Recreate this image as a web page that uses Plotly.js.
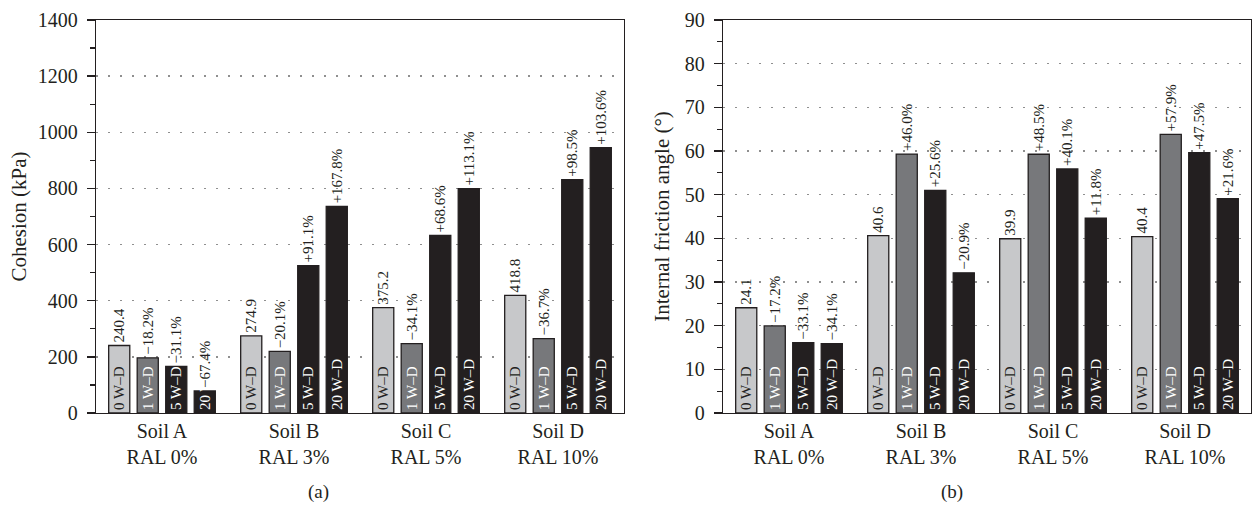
<!DOCTYPE html>
<html>
<head>
<meta charset="utf-8">
<script src="https://cdn.plot.ly/plotly-3.0.1.min.js"></script>
<style>
  html, body { margin: 0; padding: 0; background: #ffffff; }
  #chart { width: 1253px; height: 513px; }
</style>
</head>
<body>
<div id="chart"></div>
<script>
// Soil groups (x categories) and wetting–drying cycle series
const soils = ['Soil A<br>RAL 0%', 'Soil B<br>RAL 3%', 'Soil C<br>RAL 5%', 'Soil D<br>RAL 10%'];
const cycleNames = ['0 W–D', '1 W–D', '5 W–D', '20 W–D'];

// (a) Cohesion, kPa
const cohesion0 = [240.4, 274.9, 375.2, 418.8];
const cohesion1 = [196.6, 219.6, 247.3, 265.1];
const cohesion5 = [165.6, 525.3, 632.6, 831.3];
const cohesion20 = [78.4, 736.2, 799.6, 945.0];
const cohesionChange1 = ['−18.2%', '−20.1%', '−34.1%', '−36.7%'];
const cohesionChange5 = ['−31.1%', '+91.1%', '+68.6%', '+98.5%'];
const cohesionChange20 = ['−67.4%', '+167.8%', '+113.1%', '+103.6%'];

// (b) Internal friction angle, degrees
const friction0 = [24.1, 40.6, 39.9, 40.4];
const friction1 = [19.95, 59.3, 59.25, 63.8];
const friction5 = [16.1, 51.0, 55.9, 59.6];
const friction20 = [15.9, 32.1, 44.6, 49.1];
const frictionChange1 = ['−17.2%', '+46.0%', '+48.5%', '+57.9%'];
const frictionChange5 = ['−33.1%', '+25.6%', '+40.1%', '+47.5%'];
const frictionChange20 = ['−34.1%', '−20.9%', '+11.8%', '+21.6%'];

const INK = '#231f20';
const FONT = 'Liberation Serif, Times New Roman, serif';
const fills = ['#c7c8ca', '#77787b', INK, INK];
const innerColors = [INK, '#ffffff', '#ffffff', '#ffffff'];

function panelTraces(series, labels, xa, ya) {
  const bars = [];
  const tags = [];
  series.forEach(function (vals, i) {
    bars.push({
      type: 'bar', x: soils, y: vals, xaxis: xa, yaxis: ya,
      offsetgroup: 'c' + i, name: cycleNames[i],
      marker: { color: fills[i], line: { color: INK, width: 1.3 } },
      text: vals.map(function () { return cycleNames[i]; }),
      textposition: 'inside', insidetextanchor: 'start', textangle: -90,
      constraintext: 'none',
      insidetextfont: { family: FONT, size: 15, color: innerColors[i] },
      hoverinfo: 'skip', cliponaxis: false
    });
    tags.push({
      type: 'bar', x: soils, y: vals, xaxis: xa, yaxis: ya,
      offsetgroup: 'c' + i, name: cycleNames[i] + ' label',
      marker: { color: 'rgba(0,0,0,0)', line: { width: 0 } },
      text: labels[i],
      textposition: 'outside', textangle: -90, constraintext: 'none',
      outsidetextfont: { family: FONT, size: 15, color: INK },
      hoverinfo: 'skip', cliponaxis: false
    });
  });
  return bars.concat(tags);
}

const fmt = function (arr) { return arr.map(function (v) { return v.toFixed(1); }); };

const data = []
  .concat(panelTraces(
    [cohesion0, cohesion1, cohesion5, cohesion20],
    [fmt(cohesion0), cohesionChange1, cohesionChange5, cohesionChange20], 'x', 'y'))
  .concat(panelTraces(
    [friction0, friction1, friction5, friction20],
    [fmt(friction0), frictionChange1, frictionChange5, frictionChange20], 'x2', 'y2'));

const W = 1253;
function xAxis(d0, d1, anchor) {
  return {
    domain: [d0 / W, d1 / W], anchor: anchor, type: 'category',
    showline: true, mirror: true, linecolor: INK, linewidth: 1.3,
    ticks: '', showgrid: false, zeroline: false, fixedrange: true,
    tickfont: { family: FONT, size: 20, color: INK }
  };
}
function yAxis(range, dtick, minorStep, title, anchor, standoff) {
  return {
    domain: [0, 1], anchor: anchor, range: range, dtick: dtick, tick0: 0,
    showline: true, mirror: true, linecolor: INK, linewidth: 1.3,
    ticks: 'outside', ticklen: 8, tickwidth: 1.3, tickcolor: INK,
    ticklabelstandoff: 5,
    minor: { ticks: 'outside', ticklen: 5, tickwidth: 1.3, tickcolor: INK, dtick: minorStep, showgrid: false },
    showgrid: true, gridcolor: '#8f8f8f', gridwidth: 1.5, griddash: '1.5px,10.5px',
    zeroline: false, fixedrange: true,
    tickfont: { family: FONT, size: 20, color: INK },
    title: { text: title, font: { family: FONT, size: 21, color: INK }, standoff: standoff }
  };
}

const layout = {
  width: 1253, height: 513,
  margin: { l: 0, r: 0, t: 20, b: 100 },
  paper_bgcolor: '#ffffff', plot_bgcolor: '#ffffff',
  barmode: 'group', bargap: 0.136, bargroupgap: 0.26,
  showlegend: false,
  font: { family: FONT, color: INK },
  xaxis: xAxis(96, 624, 'y'),
  yaxis: yAxis([0, 1400], 200, 100, 'Cohesion (kPa)', 'x', 5),
  xaxis2: xAxis(723, 1251, 'y2'),
  yaxis2: yAxis([0, 90], 10, 5, 'Internal friction angle (°)', 'x2', 9),
  annotations: [
    { text: '(a)', xref: 'paper', yref: 'paper', x: 318 / W, y: -0.2, showarrow: false,
      xanchor: 'center', yanchor: 'middle', font: { family: FONT, size: 19, color: INK } },
    { text: '(b)', xref: 'paper', yref: 'paper', x: 952 / W, y: -0.2, showarrow: false,
      xanchor: 'center', yanchor: 'middle', font: { family: FONT, size: 19, color: INK } }
  ]
};

Plotly.newPlot('chart', data, layout, { displayModeBar: false, staticPlot: true });
</script>
</body>
</html>
